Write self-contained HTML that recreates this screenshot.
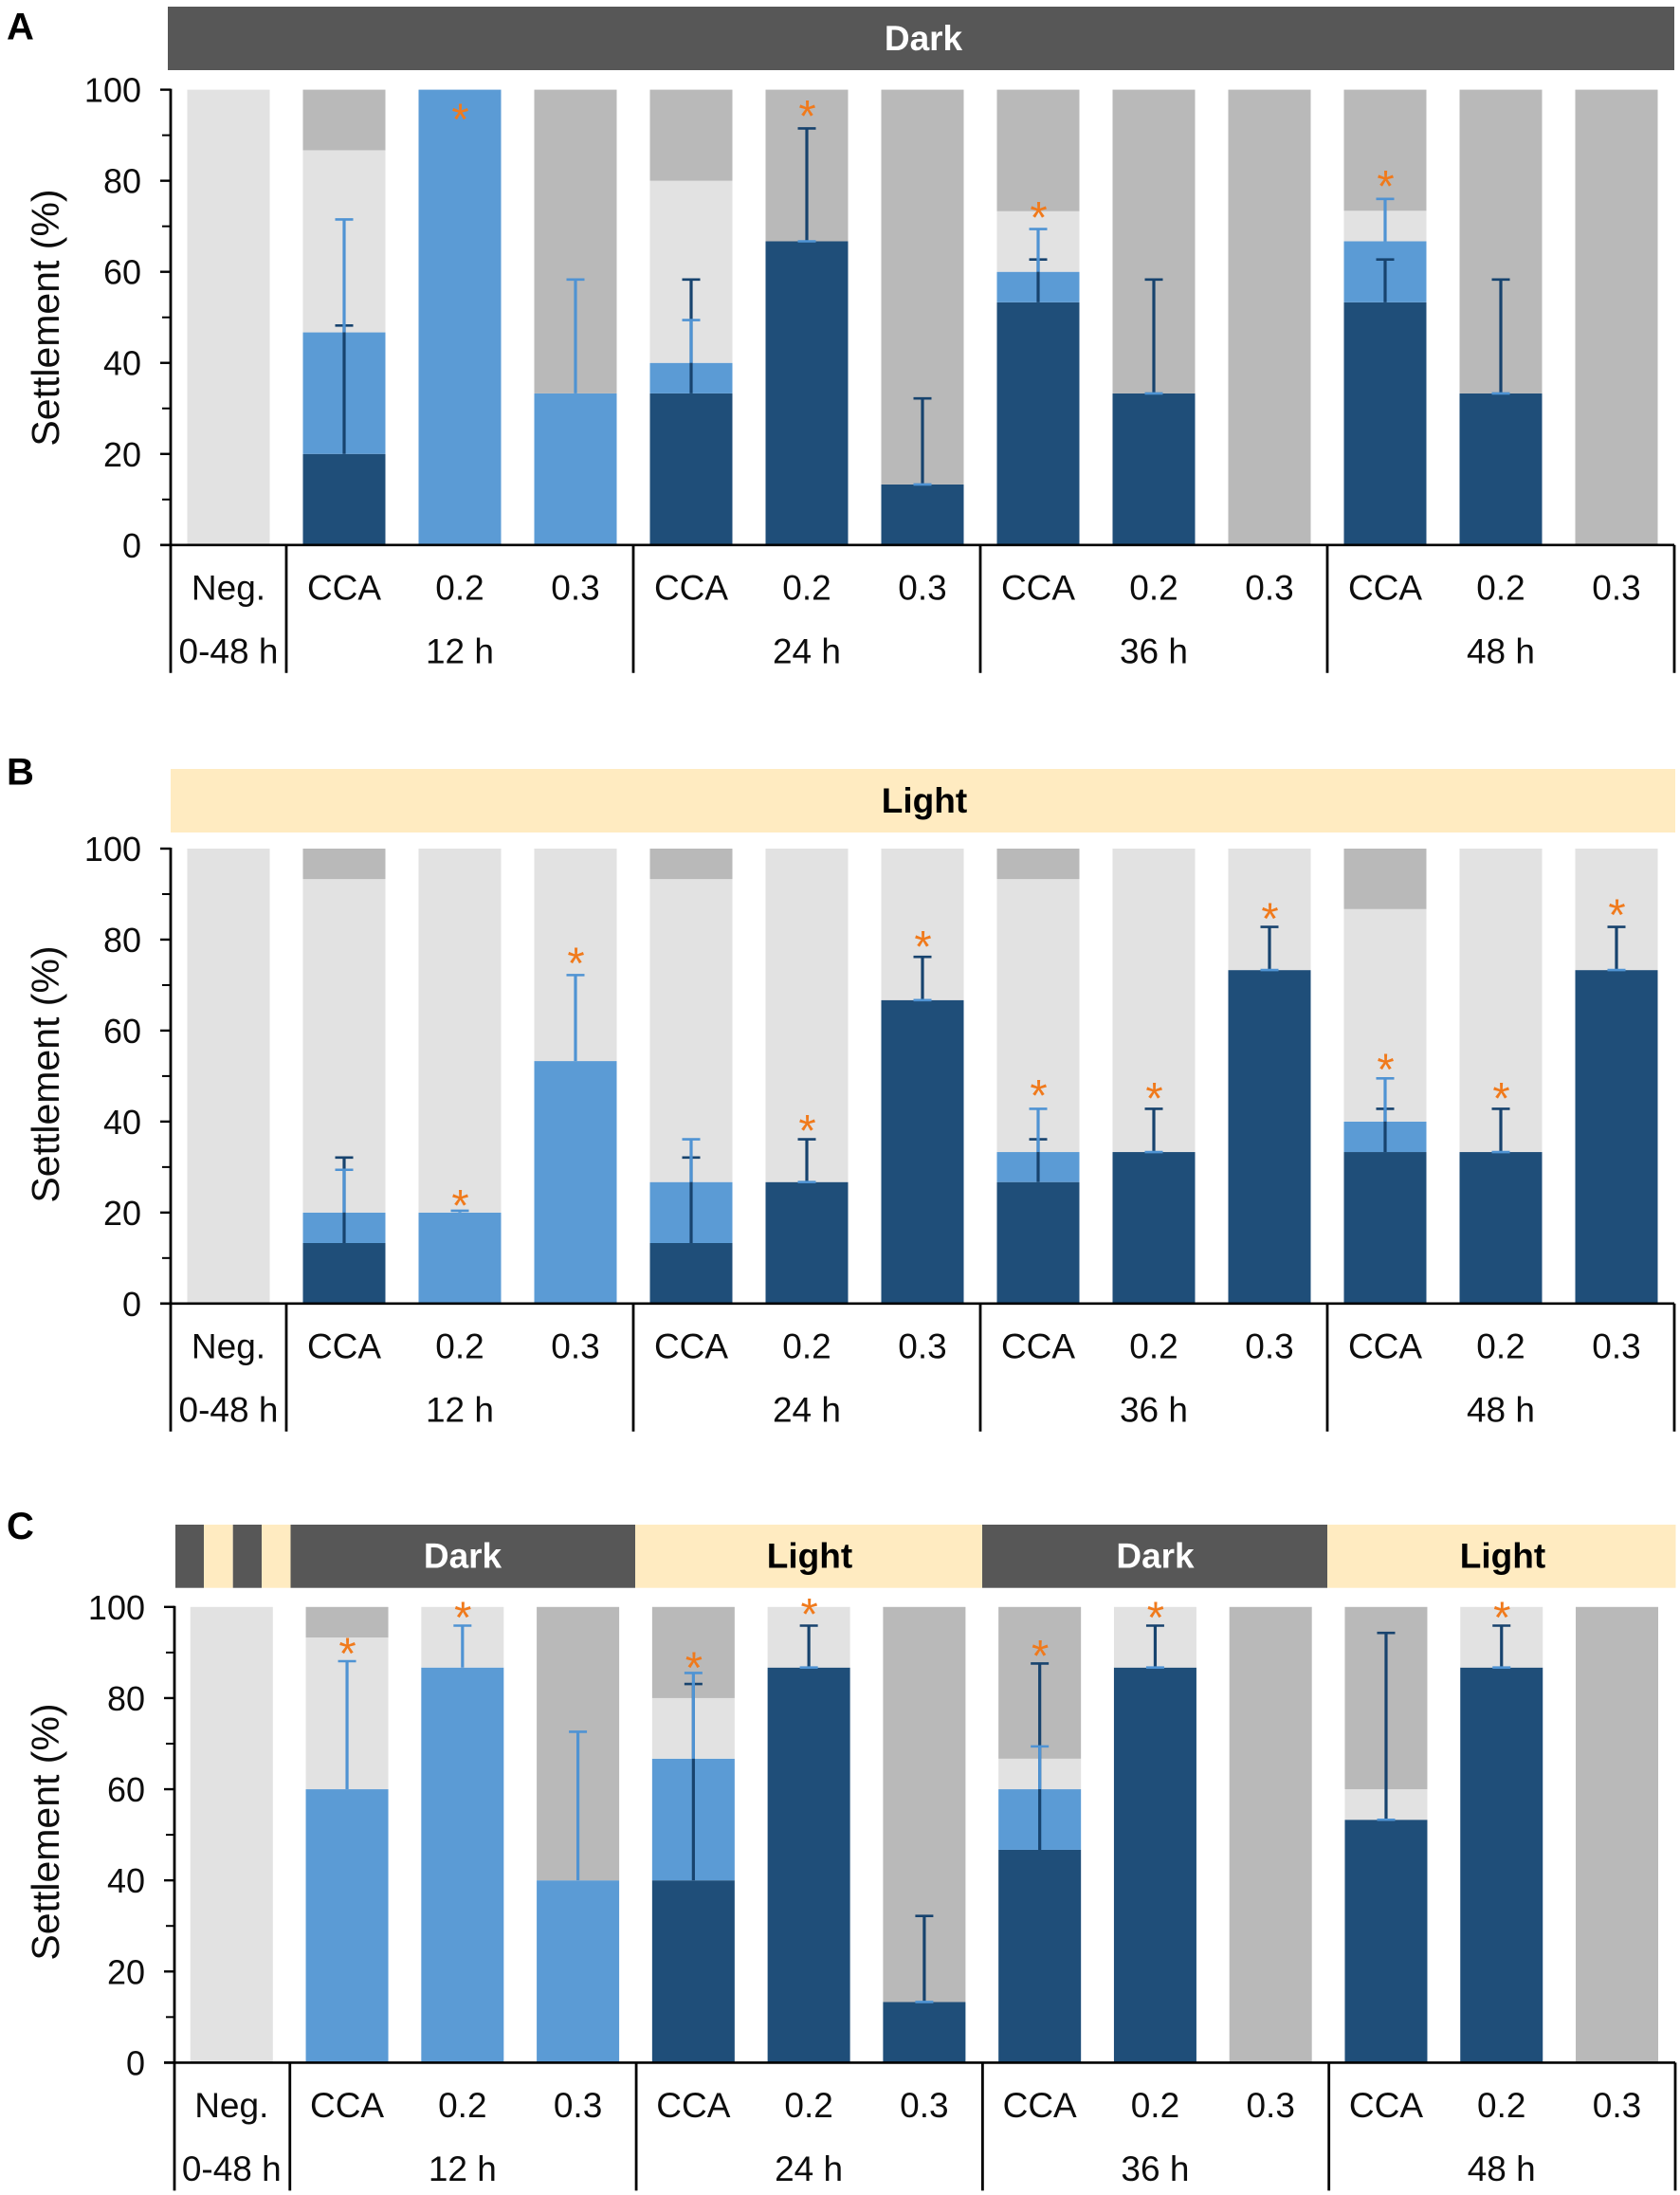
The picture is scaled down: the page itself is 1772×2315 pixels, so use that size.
<!DOCTYPE html>
<html lang="en">
<head>
<meta charset="utf-8">
<title>Settlement chart</title>
<style>
html,body{margin:0;padding:0;background:#fff;}
svg{display:block;font-family:"Liberation Sans",Arial,sans-serif;}
</style>
</head>
<body>
<svg id="figure" xmlns="http://www.w3.org/2000/svg" width="1772" height="2315" viewBox="0 0 1772 2315"></svg>
<script>
// Shared labels
const yTicks = [0, 20, 40, 60, 80, 100];
const yMinorTicks = [10, 30, 50, 70, 90];
const treatments = ["Neg.", "CCA", "0.2", "0.3", "CCA", "0.2", "0.3", "CCA", "0.2", "0.3", "CCA", "0.2", "0.3"];
const timeGroups = ["12 h", "24 h", "36 h", "48 h"];

// Panel A (Dark): stacked segment heights, error-bar tops, asterisk heights
const darkA  = [0, 20, 0, 0, 33.3, 66.7, 13.3, 53.3, 33.3, 0, 53.3, 33.3, 0];
const blueA  = [0, 26.7, 100, 33.3, 6.7, 0, 0, 6.7, 0, 0, 13.4, 0, 0];
const lightA = [100, 40, 0, 0, 40, 0, 0, 13.3, 0, 0, 6.7, 0, 0];
const grayA  = [0, 13.3, 0, 66.7, 20, 33.3, 86.7, 26.7, 66.7, 100, 26.6, 66.7, 100];
const errDarkA = [null, 48.2, null, null, 58.3, 91.5, 32.2, 62.7, 58.3, null, 62.7, 58.3, null];
const errBlueA = [null, 71.5, null, 58.3, 49.4, null, null, 69.4, null, null, 76, null, null];
const starA = [null, null, 95, null, null, 95.7, null, 73.5, null, null, 80.3, null, null];

// Panel B (Light)
const darkB  = [0, 13.3, 0, 0, 13.3, 26.7, 66.7, 26.7, 33.3, 73.3, 33.3, 33.3, 73.3];
const blueB  = [0, 6.7, 20, 53.3, 13.4, 0, 0, 6.6, 0, 0, 6.7, 0, 0];
const lightB = [100, 73.3, 80, 46.7, 66.6, 73.3, 33.3, 60, 66.7, 26.7, 46.7, 66.7, 26.7];
const grayB  = [0, 6.7, 0, 0, 6.7, 0, 0, 6.7, 0, 0, 13.3, 0, 0];
const errDarkB = [null, 32.1, null, null, 32.1, 36.1, 76.2, 36.1, 42.8, 82.8, 42.8, 42.8, 82.8];
const errBlueB = [null, 29.4, 20.4, 72.2, 36.1, null, null, 42.8, null, null, 49.5, null, null];
const starB = [null, null, 23.1, 76.3, null, 39.6, 80, 47.3, 46.6, 86.1, 53, 46.6, 87];

// Panel C (Alternating)
const darkC  = [0, 0, 0, 0, 40, 86.7, 13.3, 46.7, 86.7, 0, 53.3, 86.7, 0];
const blueC  = [0, 60, 86.7, 40, 26.7, 0, 0, 13.3, 0, 0, 0, 0, 0];
const lightC = [100, 33.3, 13.3, 0, 13.3, 13.3, 0, 6.7, 13.3, 0, 6.7, 13.3, 0];
const grayC  = [0, 6.7, 0, 60, 20, 0, 86.7, 33.3, 0, 100, 40, 0, 100];
const errDarkC = [null, null, null, null, 83.1, 95.9, 32.2, 87.6, 95.9, null, 94.3, 95.9, null];
const errBlueC = [null, 88.1, 95.9, 72.6, 85.5, null, null, 69.4, null, null, null, null, null];
const starC = [null, 91.3, 99.2, null, 88.2, 100, null, 90.8, 99.2, null, null, 99.2, null];

const DARK_BAR = "#1f4e79", BLUE_BAR = "#5b9bd5", LIGHT_BAR = "#e2e2e2", GRAY_BAR = "#b9b9b9";
const HEAD_DARK = "#575757", HEAD_LIGHT = "#ffebc1", STAR = "#f07a1c", INK = "#0d0d0d";
const BAR_W = 87;
const svg = document.getElementById("figure");
const NS = "http://www.w3.org/2000/svg";

function make(tag, attrs, parent, text) {
  const el = document.createElementNS(NS, tag);
  for (const k in attrs) el.setAttribute(k, attrs[k]);
  if (text !== undefined) el.textContent = text;
  parent.appendChild(el);
  return el;
}

function headerSeg(g, seg, top, bottom) {
  const r = make("rect", { x: seg.x0, y: top, width: seg.x1 - seg.x0, height: bottom - top, fill: seg.fill }, g);
  
  
  if (seg.label) {
    const t = make("text", { x: seg.labelX, y: bottom - 21.2, "text-anchor": "middle", "font-size": 37, "font-weight": "bold", fill: seg.fill === HEAD_DARK ? "#fff" : "#000" }, g, seg.label);
    
    
  }
}

function drawErr(g, xc, from, to, color, yScale, name) {
  const l = make("line", { x1: xc, x2: xc, y1: yScale(from), y2: yScale(to), stroke: color, "stroke-width": 3.2 }, g);
  
  
  const c = make("line", { x1: xc - 9.5, x2: xc + 9.5, y1: yScale(to), y2: yScale(to), stroke: color, "stroke-width": 2.6 }, g);
  
  
}

function drawPanel(p) {
  const g = make("g", {}, svg);
  
  

  const pitch = (p.x1 - p.x0) / 13;
  const yScale = v => p.y0 - (p.y0 - p.y100) * v / 100;
  const xCenter = i => p.x0 + p.barShift + pitch * (i + 0.5);

  const letter = make("text", { x: 7, y: p.letterY, "font-size": 40, "font-weight": "bold", fill: "#000" }, g, p.letter);
  
  

  p.header.forEach(seg => headerSeg(g, seg, p.headTop, p.headBottom));

  // stacked bars
  treatments.forEach((name, i) => {
    const x = xCenter(i) - BAR_W / 2;
    let base = 0;
    [[p.dark, DARK_BAR, "dark"], [p.blue, BLUE_BAR, "blue"], [p.light, LIGHT_BAR, "light"], [p.gray, GRAY_BAR, "gray"]].forEach(s => {
      const v = s[0][i];
      if (v > 0) {
        const top = yScale(base + v), bot = yScale(base);
        const r = make("rect", { x: x, y: top, width: BAR_W, height: bot - top, fill: s[1] }, g);
        
        
      }
      base += v;
    });
  });

  // error bars and asterisks
  treatments.forEach((name, i) => {
    const xc = xCenter(i);
    const d = p.dark[i], b = p.blue[i];
    if (p.errDark[i] !== null) drawErr(g, xc, d, p.errDark[i], "#17436e", yScale, "error-bar-dark");
    if (p.errBlue[i] !== null) {
      drawErr(g, xc, d + b, p.errBlue[i], "#4f93d3", yScale, "error-bar-blue");
    } else if (d > 0) {
      const c = make("line", { x1: xc - 9.5, x2: xc + 9.5, y1: yScale(d), y2: yScale(d), stroke: "#4f93d3", "stroke-width": 2.6 }, g);
      
      
    }
    if (p.star[i] !== null) {
      const s = make("text", { x: xc + 0.5, y: yScale(p.star[i]) + 23.5, "text-anchor": "middle", "font-size": 47, fill: STAR }, g, "*");
      
      
    }
  });

  // axes
  const yAxis = make("line", { x1: p.x0, x2: p.x0, y1: p.y100 - 1, y2: p.y0 + 135, stroke: "#000", "stroke-width": 2.8 }, g);
  
  
  const xAxis = make("line", { x1: p.x0 - 11, x2: p.x1, y1: p.y0, y2: p.y0, stroke: "#000", "stroke-width": 2.6 }, g);
  
  

  yTicks.forEach(v => {
    const t = make("line", { x1: p.x0 - 11, x2: p.x0, y1: yScale(v), y2: yScale(v), stroke: "#000", "stroke-width": 2.4 }, g);
    
    
    const lab = make("text", { x: p.x0 - 31, y: yScale(v) + 13, "text-anchor": "end", "font-size": 36, fill: INK }, g, String(v));
    
    
  });
  yMinorTicks.forEach(v => {
    const t = make("line", { x1: p.x0 - 9, x2: p.x0, y1: yScale(v), y2: yScale(v), stroke: "#000", "stroke-width": 2 }, g);
    
    
  });

  const yTitle = make("text", { transform: "translate(62 " + p.titleY + ") rotate(-90)", "text-anchor": "middle", "font-size": 41, fill: INK }, g, "Settlement (%)");
  
  

  // category separators
  [1, 4, 7, 10, 13].forEach(k => {
    const sx = p.x0 + pitch * k;
    const s = make("line", { x1: sx, x2: sx, y1: p.y0, y2: p.y0 + 135, stroke: "#000", "stroke-width": 2.8 }, g);
    
    
  });

  // category labels
  treatments.forEach((name, i) => {
    const t = make("text", { x: xCenter(i), y: p.y0 + 57.5, "text-anchor": "middle", "font-size": 37, fill: INK }, g, name);
    
    
  });
  const negT = make("text", { x: xCenter(0), y: p.y0 + 124.5, "text-anchor": "middle", "font-size": 37, fill: INK }, g, "0-48 h");
  
  
  timeGroups.forEach((name, k) => {
    const t = make("text", { x: xCenter(2 + 3 * k), y: p.y0 + 124.5, "text-anchor": "middle", "font-size": 37, fill: INK }, g, name);
    
    
  });
}

drawPanel({
  letter: "A", letterY: 41.7, titleY: 335, barShift: 0,
  x0: 180, x1: 1766, y100: 94.6, y0: 574.8, headTop: 7, headBottom: 74,
  header: [{ x0: 177, x1: 1766, fill: HEAD_DARK, label: "Dark", labelX: 974 }],
  dark: darkA, blue: blueA, light: lightA, gray: grayA, errDark: errDarkA, errBlue: errBlueA, star: starA
});
drawPanel({
  letter: "B", letterY: 827.5, titleY: 1133, barShift: 0,
  x0: 180, x1: 1766, y100: 895, y0: 1374.8, headTop: 811, headBottom: 878,
  header: [{ x0: 180, x1: 1767, fill: HEAD_LIGHT, label: "Light", labelX: 975 }],
  dark: darkB, blue: blueB, light: lightB, gray: grayB, errDark: errDarkB, errBlue: errBlueB, star: starB
});
drawPanel({
  letter: "C", letterY: 1623, titleY: 1932, barShift: -0.6,
  x0: 184, x1: 1767, y100: 1694.8, y0: 2175.4, headTop: 1608, headBottom: 1674.7,
  header: [
    { x0: 185, x1: 215, fill: HEAD_DARK },
    { x0: 215, x1: 245.7, fill: HEAD_LIGHT },
    { x0: 245.7, x1: 276, fill: HEAD_DARK },
    { x0: 276, x1: 306.5, fill: HEAD_LIGHT },
    { x0: 306.5, x1: 670, fill: HEAD_DARK, label: "Dark", labelX: 488 },
    { x0: 670, x1: 1036, fill: HEAD_LIGHT, label: "Light", labelX: 854 },
    { x0: 1036, x1: 1400, fill: HEAD_DARK, label: "Dark", labelX: 1218.5 },
    { x0: 1400, x1: 1767.5, fill: HEAD_LIGHT, label: "Light", labelX: 1585 }
  ],
  dark: darkC, blue: blueC, light: lightC, gray: grayC, errDark: errDarkC, errBlue: errBlueC, star: starC
});
</script>
</body>
</html>
